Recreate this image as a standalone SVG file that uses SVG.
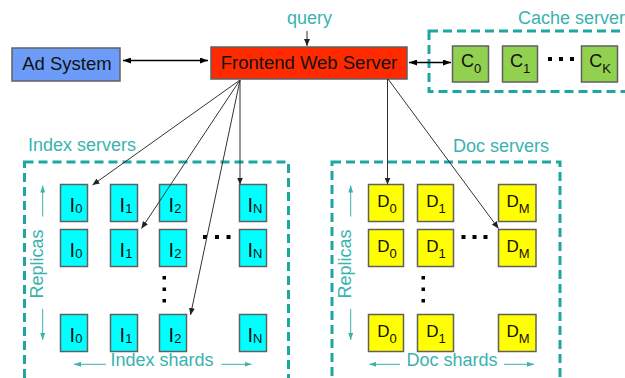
<svg xmlns="http://www.w3.org/2000/svg" width="625" height="378" viewBox="0 0 625 378">
<defs>
<style>
.t{font-family:"Liberation Sans",Arial,sans-serif;}
.lbl{font-family:"Liberation Sans",Arial,sans-serif;font-size:18px;fill:#3ab3ae;}
.box{stroke:#606060;stroke-width:1.5;}
.ix{fill:#00ffff;}
.dc{fill:#ffff00;}
.ch{fill:#92d050;}
.grp{fill:none;stroke:#1ea7a1;stroke-width:3;stroke-dasharray:9 5;}
.con{stroke:#333;stroke-width:1;fill:none;}
.big{stroke:#000;stroke-width:1.6;fill:none;}
.tl{stroke:#3ab3ae;stroke-width:1;fill:none;}
.bt{font-family:"Liberation Sans",Arial,sans-serif;fill:#111;text-anchor:middle;}
.dot{fill:#000;}
</style>
<marker id="ah" markerWidth="7" markerHeight="6" refX="7" refY="3" orient="auto" markerUnits="userSpaceOnUse"><path d="M0,0 L7,3 L0,6 z" fill="#222"/></marker>
<marker id="ahb" markerWidth="8" markerHeight="6" refX="8" refY="3" orient="auto-start-reverse" markerUnits="userSpaceOnUse"><path d="M0,0 L8,3 L0,6 z" fill="#000"/></marker>
<marker id="ahT" markerWidth="7" markerHeight="5" refX="7" refY="2.5" orient="auto" markerUnits="userSpaceOnUse"><path d="M0,0 L7,2.5 L0,5 z" fill="#3ab3ae"/></marker>
</defs>
<rect width="625" height="378" fill="#fff"/>

<g id="cache-servers">
<rect class="grp" x="429" y="31" width="210" height="60.5"/>
<text class="lbl" x="518" y="24">Cache servers</text>
</g>
<g id="index-servers">
<rect class="grp" x="24.5" y="162" width="264" height="222"/>
<text class="lbl" x="28" y="151">Index servers</text>
</g>
<g id="doc-servers">
<rect class="grp" x="332" y="162" width="228" height="222"/>
<text class="lbl" x="453" y="152">Doc servers</text>
</g>

<g id="ad-system">
<rect x="12" y="48" width="108" height="33" fill="#6c9cf8" class="box"/>
<text class="bt" x="67" y="70" font-size="18.5">Ad System</text>
</g>
<g id="frontend">
<rect x="211" y="47" width="196" height="32" fill="#ff2a00" class="box"/>
<text class="bt" x="309" y="69" font-size="18.5">Frontend Web Server</text>
</g>
<text class="lbl" x="287" y="24">query</text>

<g id="c0"><rect class="box ch" x="452.5" y="46" width="36" height="36"/><text class="bt" x="471" y="67" font-size="18">C<tspan font-size="13" dy="6">0</tspan></text></g>
<g id="c1"><rect class="box ch" x="502.5" y="46" width="35" height="36"/><text class="bt" x="520" y="67" font-size="18">C<tspan font-size="13" dy="6">1</tspan></text></g>
<g id="ck"><rect class="box ch" x="581.5" y="46" width="36" height="36"/><text class="bt" x="600" y="67" font-size="18">C<tspan font-size="13" dy="6">K</tspan></text></g>
<rect class="dot" x="548" y="57" width="4" height="4"/><rect class="dot" x="559" y="57" width="4" height="4"/><rect class="dot" x="570" y="57" width="4" height="4"/>

<g id="index-grid">
<g id="i0a"><rect class="box ix" x="60.5" y="184.5" width="27" height="37"/><text class="bt" x="76" y="212" font-size="20">I<tspan font-size="13" dy="0.5">0</tspan></text></g>
<g id="i1a"><rect class="box ix" x="110.5" y="184.5" width="27" height="37"/><text class="bt" x="126" y="212" font-size="20">I<tspan font-size="13" dy="0.5">1</tspan></text></g>
<g id="i2a"><rect class="box ix" x="159.5" y="184.5" width="27" height="37"/><text class="bt" x="175" y="212" font-size="20">I<tspan font-size="13" dy="0.5">2</tspan></text></g>
<g id="ina"><rect class="box ix" x="239.5" y="184.5" width="27" height="37"/><text class="bt" x="255" y="212" font-size="20">I<tspan font-size="13" dy="0.5">N</tspan></text></g>
<g id="i0b"><rect class="box ix" x="60.5" y="229.5" width="27" height="37"/><text class="bt" x="76" y="257" font-size="20">I<tspan font-size="13" dy="0.5">0</tspan></text></g>
<g id="i1b"><rect class="box ix" x="110.5" y="229.5" width="27" height="37"/><text class="bt" x="126" y="257" font-size="20">I<tspan font-size="13" dy="0.5">1</tspan></text></g>
<g id="i2b"><rect class="box ix" x="159.5" y="229.5" width="27" height="37"/><text class="bt" x="175" y="257" font-size="20">I<tspan font-size="13" dy="0.5">2</tspan></text></g>
<g id="inb"><rect class="box ix" x="239.5" y="229.5" width="27" height="37"/><text class="bt" x="255" y="257" font-size="20">I<tspan font-size="13" dy="0.5">N</tspan></text></g>
<g id="i0c"><rect class="box ix" x="60.5" y="314.5" width="27" height="37"/><text class="bt" x="76" y="342" font-size="20">I<tspan font-size="13" dy="0.5">0</tspan></text></g>
<g id="i1c"><rect class="box ix" x="110.5" y="314.5" width="27" height="37"/><text class="bt" x="126" y="342" font-size="20">I<tspan font-size="13" dy="0.5">1</tspan></text></g>
<g id="i2c"><rect class="box ix" x="159.5" y="314.5" width="27" height="37"/><text class="bt" x="175" y="342" font-size="20">I<tspan font-size="13" dy="0.5">2</tspan></text></g>
<g id="inc"><rect class="box ix" x="239.5" y="314.5" width="27" height="37"/><text class="bt" x="255" y="342" font-size="20">I<tspan font-size="13" dy="0.5">N</tspan></text></g>
<rect class="dot" x="203" y="235" width="4" height="4"/><rect class="dot" x="215" y="235" width="4" height="4"/><rect class="dot" x="226.5" y="235" width="4" height="4"/>
<rect class="dot" x="162.5" y="276" width="3.5" height="3.5"/><rect class="dot" x="162.5" y="287.5" width="3.5" height="3.5"/><rect class="dot" x="162.5" y="299" width="3.5" height="3.5"/>
<text class="lbl" transform="translate(43,264) rotate(-90)" text-anchor="middle">Replicas</text>
<text class="lbl" x="162" y="366" text-anchor="middle">Index shards</text>
</g>

<g id="doc-grid">
<g id="d0a"><rect class="box dc" x="368.5" y="184.5" width="35" height="37"/><text class="bt" x="387" y="207" font-size="17">D<tspan font-size="13" dy="6">0</tspan></text></g>
<g id="d1a"><rect class="box dc" x="417.5" y="184.5" width="36" height="37"/><text class="bt" x="436" y="207" font-size="17">D<tspan font-size="13" dy="6">1</tspan></text></g>
<g id="dma"><rect class="box dc" x="498.5" y="184.5" width="37.5" height="37"/><text class="bt" x="518" y="207" font-size="17">D<tspan font-size="13" dy="6">M</tspan></text></g>
<g id="d0b"><rect class="box dc" x="368.5" y="229.5" width="35" height="37"/><text class="bt" x="387" y="252" font-size="17">D<tspan font-size="13" dy="6">0</tspan></text></g>
<g id="d1b"><rect class="box dc" x="417.5" y="229.5" width="36" height="37"/><text class="bt" x="436" y="252" font-size="17">D<tspan font-size="13" dy="6">1</tspan></text></g>
<g id="dmb"><rect class="box dc" x="498.5" y="229.5" width="37.5" height="37"/><text class="bt" x="518" y="252" font-size="17">D<tspan font-size="13" dy="6">M</tspan></text></g>
<g id="d0c"><rect class="box dc" x="368.5" y="314.5" width="35" height="37"/><text class="bt" x="387" y="337" font-size="17">D<tspan font-size="13" dy="6">0</tspan></text></g>
<g id="d1c"><rect class="box dc" x="417.5" y="314.5" width="36" height="37"/><text class="bt" x="436" y="337" font-size="17">D<tspan font-size="13" dy="6">1</tspan></text></g>
<g id="dmc"><rect class="box dc" x="498.5" y="314.5" width="37.5" height="37"/><text class="bt" x="518" y="337" font-size="17">D<tspan font-size="13" dy="6">M</tspan></text></g>
<rect class="dot" x="461.5" y="235" width="4" height="4"/><rect class="dot" x="472.5" y="235" width="4" height="4"/><rect class="dot" x="483.5" y="235" width="4" height="4"/>
<rect class="dot" x="421.5" y="276" width="3.5" height="3.5"/><rect class="dot" x="421.5" y="287.5" width="3.5" height="3.5"/><rect class="dot" x="421.5" y="299" width="3.5" height="3.5"/>
<text class="lbl" transform="translate(351,264) rotate(-90)" text-anchor="middle">Replicas</text>
<text class="lbl" x="452" y="366" text-anchor="middle">Doc shards</text>
</g>

<g id="connectors">
<line class="con" x1="307" y1="31" x2="307" y2="46" marker-end="url(#ah)"/>
<line class="big" x1="123" y1="60.5" x2="208" y2="60.5" marker-start="url(#ahb)" marker-end="url(#ahb)"/>
<line class="big" x1="409" y1="62.5" x2="451" y2="62.5" marker-start="url(#ahb)" marker-end="url(#ahb)"/>
<line class="con" x1="240" y1="80" x2="92.5" y2="185" marker-end="url(#ah)"/>
<line class="con" x1="240" y1="80" x2="141.5" y2="228.5" marker-end="url(#ah)"/>
<line class="con" x1="240" y1="80" x2="190.5" y2="315" marker-end="url(#ah)"/>
<line class="con" x1="240" y1="80" x2="240" y2="184.5" marker-end="url(#ah)"/>
<line class="con" x1="387.5" y1="79" x2="387.5" y2="184.5" marker-end="url(#ah)"/>
<line class="con" x1="388" y1="79" x2="498.5" y2="228.5" marker-end="url(#ah)"/>
<line class="tl" x1="42.7" y1="216.5" x2="42.7" y2="185.5" marker-end="url(#ahT)"/>
<line class="tl" x1="42.7" y1="309" x2="42.7" y2="340" marker-end="url(#ahT)"/>
<line class="tl" x1="350.7" y1="216.5" x2="350.7" y2="185.5" marker-end="url(#ahT)"/>
<line class="tl" x1="350.7" y1="309" x2="350.7" y2="340" marker-end="url(#ahT)"/>
<line class="tl" x1="106" y1="364.3" x2="74" y2="364.3" marker-end="url(#ahT)"/>
<line class="tl" x1="221.5" y1="364.3" x2="251.5" y2="364.3" marker-end="url(#ahT)"/>
<line class="tl" x1="400" y1="364.3" x2="369.3" y2="364.3" marker-end="url(#ahT)"/>
<line class="tl" x1="504" y1="364.3" x2="534" y2="364.3" marker-end="url(#ahT)"/>
</g>
</svg>
